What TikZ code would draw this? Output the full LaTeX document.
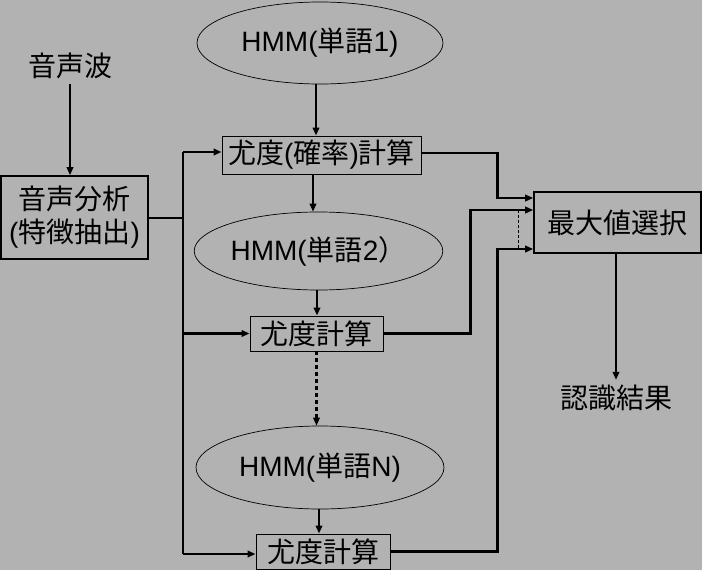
\documentclass[tikz,border=0pt]{standalone}
\usepackage{fontspec}
\setmainfont{Liberation Sans}
\newfontfamily\cjk{Noto Sans CJK JP}
\usetikzlibrary{arrows.meta,shapes.geometric}
\newcommand{\J}[1]{{\cjk #1}}
\definecolor{bgc}{gray}{0.70}
\tikzset{
  conn/.style={line width=2.1pt},
  arr/.style={conn,-{Triangle[length=8pt,width=6.5pt]}},
  thinbox/.style={draw,line width=0.9pt,inner sep=0pt},
  thickbox/.style={draw,line width=1.6pt,inner sep=0pt},
  ell/.style={draw,ellipse,line width=0.7pt,inner sep=0pt},
  txt/.style={inner sep=0pt}
}
\begin{document}
\begin{tikzpicture}[x=1pt,y=-1pt,font=\fontsize{28}{33}\selectfont]
\fill[bgc] (0,0) rectangle (702,570);
\useasboundingbox (0,0) rectangle (702,570);

\node[txt] (wave) at (70,66) {\J{音声波}};
\node[thickbox,minimum width=147,minimum height=83,align=center] (ana) at (74.5,217.5) {\J{音声分析}\\(\J{特徴抽出})};

\node[ell,minimum width=246,minimum height=82] (h1) at (320,43) {HMM(\J{単語}1)};
\node[thinbox,minimum width=199,minimum height=38] (b1) at (321.5,155) {\J{尤度}(\J{確率})\J{計算}};
\node[ell,minimum width=247,minimum height=78] (h2) at (318.5,251) {HMM(\J{単語}2\J{）}};
\node[thinbox,minimum width=133,minimum height=35] (b2) at (316.5,333.5) {\J{尤度計算}};
\node[ell,minimum width=248,minimum height=83] (hN) at (320,467.5) {HMM(\J{単語}N)};
\node[thinbox,minimum width=134,minimum height=35] (b3) at (323,551.5) {\J{尤度計算}};

\node[thickbox,minimum width=167,minimum height=61] (max) at (617.5,222.5) {\J{最大値選択}};
\node[txt] (res) at (616,398) {\J{認識結果}};

% vertical flow
\draw[arr] ([yshift=-5pt]wave.south) -- (wave.south |- ana.north);
\draw[arr] ([xshift=-4pt]h1.south) -- ([xshift=-4pt]h1.south |- b1.north);
\draw[arr] ([xshift=-8.5pt]b1.south) -- ([xshift=-8.5pt]b1.south |- h2.north);
\draw[arr] ([xshift=-1.5pt]h2.south) -- ([xshift=-1.5pt]h2.south |- b2.north);
\draw[arr,dash pattern=on 4pt off 3pt] (b2.south) -- (b2.south |- hN.north);
\draw[arr] ([xshift=-1pt]hN.south) -- ([xshift=-1pt]hN.south |- b3.north);
\draw[arr] ([xshift=-1.5pt]max.south) -- ([xshift=-1.5pt,yshift=5pt]max.south |- res.north);

% left distribution
\coordinate (sp) at (183,218);
\coordinate (top) at (183,152);
\coordinate (bot) at (183,554);
\draw[conn] (ana.east |- sp) -- (sp);
\draw[conn] (top) -- (bot);
\draw[arr] (top) -- (top -| b1.west);
\draw[arr] (sp |- b2.west) -- (b2.west);
\draw[arr] (bot) -- (bot -| b3.west);

% right collection
\coordinate (m1) at ([yshift=24.5pt]max.west);
\coordinate (m2) at ([yshift=12.5pt]max.west);
\coordinate (m3) at ([yshift=-26.5pt]max.west);
\draw[arr] ([yshift=2pt]b1.east) -- ++(76,0) |- (m1);
\draw[arr] (b2.east) -- ++(87,0) |- (m2);
\draw[arr] (b3.east) -- ++(107,0) |- (m3);
\draw[line width=0.7pt,dash pattern=on 3pt off 2pt] ([xshift=-15pt]m2) -- ([xshift=-15pt]m3);
\end{tikzpicture}
\end{document}
